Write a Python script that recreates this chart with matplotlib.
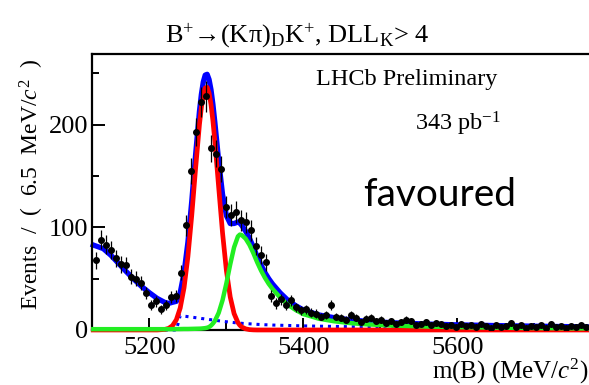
import numpy as np
import matplotlib
matplotlib.use("Agg")
import matplotlib.pyplot as plt
from matplotlib.ticker import MultipleLocator

SERIF = ["Liberation Serif", "DejaVu Serif"]
plt.rcParams["font.family"] = SERIF
plt.rcParams["mathtext.fontset"] = "custom"
plt.rcParams["mathtext.rm"] = "Liberation Serif"
plt.rcParams["mathtext.it"] = "Liberation Serif:italic"

# histogram: 6.5 MeV bins, first bin centre 5130.25
bin_lo, bin_w = 5127.0, 6.5
counts = [68, 88, 83, 78, 70, 64, 63, 52, 50, 46,
          36, 24, 28, 20, 24, 32, 33, 56, 102, 155,
          193, 222, 228, 177, 172, 157, 120, 112, 115, 107,
          105, 97, 82, 73, 66, 33, 26, 30, 24, 29,
          22, 19, 20, 17, 16, 13, 15, 24, 13, 12,
          10, 15, 12, 8, 11, 12, 9, 10, 7, 9,
          6, 8, 10, 9, 5, 6, 8, 5, 7, 6,
          4, 5, 3, 6, 4, 5, 3, 6, 4, 2,
          5, 3, 4, 7, 3, 5, 2, 4, 3, 5,
          2, 6, 3, 4, 2, 4, 3, 5, 3]

# fit components evaluated on a common mass grid (MeV/c^2)
m_fit = [5127, 5140, 5150, 5160, 5170, 5180, 5190, 5200, 5210, 5220,
         5225, 5230, 5235, 5240, 5245, 5250, 5255, 5260, 5265, 5267.5,
         5270, 5272.5, 5275, 5277.5, 5280, 5282.5, 5285, 5290, 5295, 5300,
         5305, 5310, 5315, 5317.5, 5320, 5325, 5330, 5335, 5340, 5345,
         5350, 5355, 5360, 5370, 5380, 5390, 5400, 5420, 5440, 5460,
         5480, 5520, 5560, 5600, 5650, 5700, 5771]
sig_dk = [0, 0, 0, 0, 0, 0, 0, 0, 0, 0.55,
          1.6, 4.2, 10.0, 21.4, 41.2, 71.5, 111.8, 157.6, 200.3, 217.0,
          229.2, 235.9, 236.5, 231.0, 219.9, 203.9, 184.2, 139.1, 94.7, 58.0,
          32.1, 16.0, 7.2, 4.6, 2.9, 1.1, 0.35, 0.1, 0, 0,
          0, 0, 0, 0, 0, 0, 0, 0, 0, 0,
          0, 0, 0, 0, 0, 0, 0]
misid_dpi = [0.8, 0.8, 0.8, 0.8, 0.8, 0.8, 0.8, 0.8, 0.8, 0.8,
             0.8, 0.8, 0.9, 0.9, 1.0, 1.0, 1.1, 1.2, 1.3, 1.4,
             1.6, 1.8, 2.2, 2.9, 4.3, 6.3, 8.8, 16.7, 29.0, 45.5,
             64.0, 80.6, 91.2, 93.0, 92.5, 89.0, 83.0, 75.0, 66.0, 58.0,
             51.0, 45.0, 40.0, 31.5, 24.5, 19.5, 15.5, 11.0, 8.5, 6.8,
             5.6, 4.2, 3.4, 2.8, 2.3, 1.9, 1.5]
comb = [0, 0, 0, 0, 0, 0, 0, 0, 0, 0,
        0, 0, 0, 14.0, 13.5, 13.0, 12.5, 12.0, 11.5, 11.2,
        11.0, 10.7, 10.5, 10.2, 10.0, 9.7, 9.5, 9.0, 8.5, 8.0,
        7.6, 7.2, 6.8, 6.6, 6.5, 6.2, 6.0, 5.8, 5.5, 5.3,
        5.1, 5.0, 4.8, 4.6, 4.4, 4.2, 4.0, 3.7, 3.5, 3.2,
        3.0, 2.7, 2.4, 2.2, 2.0, 1.8, 1.5]
part_reco = [82.0, 78.5, 72.0, 64.0, 56.0, 48.5, 41.5, 35.5, 30.0, 25.5,
             23.5, 22.0, 17.0, 0, 0, 0, 0, 0, 0, 0,
             0, 0, 0, 0, 0, 0, 0, 0, 0, 0,
             0, 0, 0, 0, 0, 0, 0, 0, 0, 0,
             0, 0, 0, 0, 0, 0, 0, 0, 0, 0,
             0, 0, 0, 0, 0, 0, 0]

counts = np.array(counts, dtype=float)
centres = bin_lo + bin_w * (np.arange(len(counts)) + 0.5)
total = np.array(sig_dk) + np.array(misid_dpi) + np.array(comb) + np.array(part_reco)

fig = plt.figure(figsize=(5.89, 3.85), dpi=100)
ax = fig.add_axes([0.157, 0.1429, 0.848, 0.7169])

ax.plot(m_fit, total, color="#0000ff", lw=3.8, zorder=2, clip_on=False)
ax.plot(m_fit, comb, color="#0000ff", lw=2.2, ls=(0, (1, 1.6)), zorder=3, clip_on=False)
ax.plot(m_fit, sig_dk, color="#ff0000", lw=3.4, zorder=4, clip_on=False)
ax.plot(m_fit, misid_dpi, color="#22ee22", lw=3.2, zorder=5, clip_on=False)
ax.errorbar(centres, counts, yerr=np.sqrt(counts), fmt="o", color="black",
            ms=4.0, elinewidth=0.9, capsize=0, zorder=6)

ax.set_xlim(5126, 5775)
ax.set_ylim(0, 269)
ax.xaxis.set_major_locator(MultipleLocator(200))
ax.xaxis.set_minor_locator(MultipleLocator(100))
ax.yaxis.set_major_locator(MultipleLocator(100))
ax.yaxis.set_minor_locator(MultipleLocator(50))
ax.tick_params(which="both", direction="in", width=1.4, colors="black",
               top=False, right=False, labelsize=19)
ax.tick_params(which="major", length=9)
ax.tick_params(which="minor", length=5)
ax.tick_params(axis="y", pad=3)
ax.tick_params(axis="x", pad=5)
for s in ax.spines.values():
    s.set_linewidth(1.6)
ax.spines["right"].set_visible(False)

fig.text(0.999, 1 - 379 / 385, r"m(B) (MeV/$c^{2}$)", ha="right", va="baseline", fontsize=18)
fig.text(0.054, 1 - 310 / 385, r"Events  /  (  6.5  MeV/$c^{2}$  )", rotation=90,
         ha="center", va="bottom", fontsize=17)
fig.text(297 / 589, 1 - 41.5 / 385,
         r"B$^{+}$→(Kπ)$_{\mathrm{D}}$K$^{+}$, DLL$_{\mathrm{K}}$> 4",
         ha="center", va="baseline", fontsize=19)
fig.text(407 / 589, 1 - 85 / 385, "LHCb Preliminary", ha="center", va="baseline", fontsize=17.5)
fig.text(458 / 589, 1 - 131 / 385, r"343 pb$^{-1}$", ha="center", va="baseline", fontsize=17.5)
fig.text(440 / 589, 1 - 206 / 385, "favoured", ha="center", va="baseline", fontsize=28,
         family=["Lato", "DejaVu Sans"])

fig.savefig("out.png", dpi=100)
